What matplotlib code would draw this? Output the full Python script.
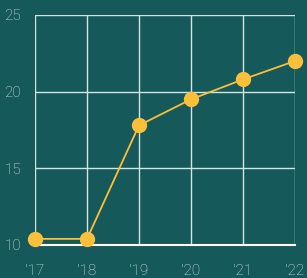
import matplotlib.pyplot as plt

years = [2017, 2018, 2019, 2020, 2021, 2022]
year_labels = ["'17", "'18", "'19", "'20", "'21", "'22"]
values = [10.4, 10.4, 17.8, 19.5, 20.8, 22.0]
y_ticks = [10, 15, 20, 25]

bg = '#16595a'
grid_col = '#d4e4e2'
text_col = '#dfe8e7'
line_col = '#fcbf3a'

plt.rcParams['font.family'] = ['Roboto', 'DejaVu Sans']

fig = plt.figure(figsize=(3.07, 2.78), dpi=100, facecolor=bg)
ax = fig.add_axes([35 / 307, 33 / 278, 260 / 307, 230 / 278])
ax.set_facecolor(bg)

ax.plot(years, values, color=line_col, lw=1.3, marker='o', markersize=10,
        clip_on=False, zorder=5)

ax.set_xlim(2017, 2022)
ax.set_ylim(10, 25)
ax.set_xticks(years)
ax.set_xticklabels(year_labels)
ax.set_yticks(y_ticks)

ax.grid(True, color=grid_col, lw=1)
for s in ['top', 'right', 'left']:
    ax.spines[s].set_visible(False)
ax.spines['bottom'].set_color('#ffffff')
ax.spines['bottom'].set_linewidth(1.5)
ax.tick_params(length=0, colors=text_col, labelsize=11)
ax.tick_params(axis='x', pad=14)
ax.tick_params(axis='y', pad=10)
for lbl in ax.get_xticklabels() + ax.get_yticklabels():
    lbl.set_color(text_col)
    lbl.set_fontweight('light')

fig.savefig('out.png', dpi=100, facecolor=bg)
